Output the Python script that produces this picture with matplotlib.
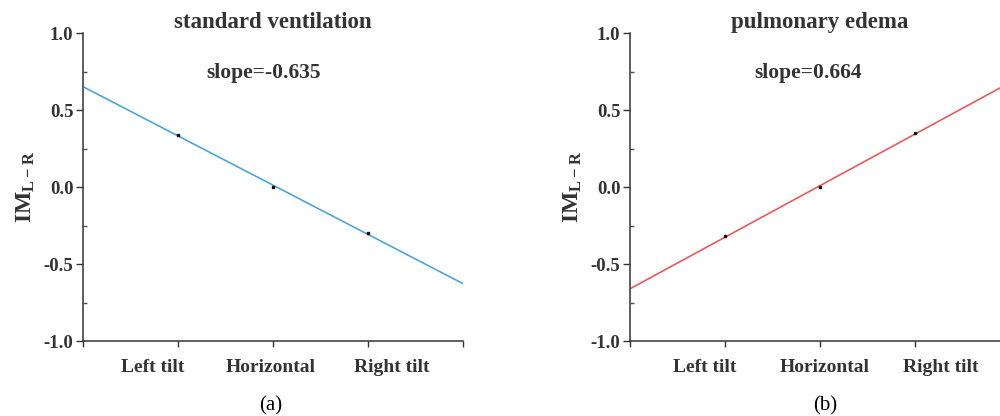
import matplotlib.pyplot as plt
import numpy as np
from matplotlib.ticker import MultipleLocator

plt.rcParams['font.family'] = ['Liberation Serif', 'DejaVu Serif']
plt.rcParams['mathtext.fontset'] = 'custom'
plt.rcParams['mathtext.rm'] = 'Liberation Serif'
plt.rcParams['mathtext.bf'] = 'Liberation Serif:bold'

posiciones = ["Left tilt", "Horizontal", "Right tilt"]
x_pos = [1, 2, 3]
im_normal = [0.34, 0.0, -0.30]
im_edema = [-0.32, 0.0, 0.35]
titulos = ["standard ventilation", "pulmonary edema"]
pendientes = ["slope=-0.635", "slope=0.664"]
letras = ["(a)", "(b)"]
colores = ["#4aa6dc", "#e85a5e"]

fig = plt.figure(figsize=(10, 4.16), dpi=100)
# posiciones de los ejes en fraccion de figura (el de la derecha se sale un poco)
cajas = [[0.083, 0.18, 0.38, 0.74], [0.630, 0.18, 0.38, 0.74]]
# donde van las etiquetas del eje x (no quedan justo bajo la marca)
x_etiquetas = [[0.73, 1.98, 3.25], [0.79, 2.05, 3.27]]
x_titulo = [2.0, 2.0]
x_pendiente = [1.9, 1.87]

datos = [im_normal, im_edema]
for k in range(2):
    ax = fig.add_axes(cajas[k])
    y = datos[k]
    m, b = np.polyfit(x_pos, y, 1)
    xx = np.array([0, 4])
    ax.plot(xx, m * xx + b, color=colores[k], linewidth=1.2)
    ax.plot(x_pos, y, linestyle='none', marker='s', markersize=1.8, color='#111111')
    ax.set_xlim(0, 4)
    ax.set_ylim(-1.0, 1.0)
    ax.spines['top'].set_visible(False)
    ax.spines['right'].set_visible(False)
    for s in ['left', 'bottom']:
        ax.spines[s].set_color('#333333')
        ax.spines[s].set_linewidth(1.1)
    ax.set_yticks([-1.0, -0.5, 0.0, 0.5, 1.0])
    ax.set_yticklabels(["-1.0", "-0.5", "0.0", "0.5", "1.0"], fontsize=13.5,
                       fontweight='bold', color='#333333')
    ax.yaxis.set_minor_locator(MultipleLocator(0.25))
    ax.tick_params(axis='y', which='major', direction='out', length=5, width=1, color='#333333', pad=2)
    ax.tick_params(axis='y', which='minor', direction='in', length=3, width=1, color='#555555')
    ax.set_xticks([0, 1, 2, 3, 4])
    ax.set_xticklabels([])
    ax.tick_params(axis='x', which='major', direction='out', length=4, width=1, color='#333333')
    for i in range(3):
        ax.text(x_etiquetas[k][i], -1.17, posiciones[i], ha='center', va='center',
                fontsize=14, fontweight='bold', color='#333333')
    ax.text(x_etiquetas[k][1] - 0.0, -1.42, letras[k], ha='center', va='center',
            fontsize=15, color='black')
    ax.text(x_titulo[k], 1.07, titulos[k], ha='center', va='center',
            fontsize=16.5, fontweight='bold', color='#333333')
    ax.text(x_pendiente[k], 0.74, pendientes[k], ha='center', va='center',
            fontsize=15.5, fontweight='bold', color='#333333')
    ax.set_ylabel(r'$\mathbf{IM_{L-R}}$', fontsize=17, color='#333333', labelpad=5)

fig.savefig("out.png", dpi=100)
